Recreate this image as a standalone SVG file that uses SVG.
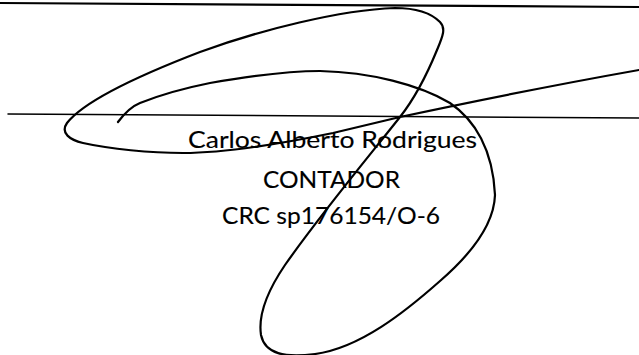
<svg xmlns="http://www.w3.org/2000/svg" width="639" height="355" viewBox="0 0 639 355">
<style>
.ln{fill:none;stroke:#000;stroke-linecap:round;stroke-linejoin:round}
.t{font-family:Lato,"Open Sans","Liberation Sans",sans-serif;font-size:22.8px;fill:#000;stroke:#000;stroke-width:0.12;text-anchor:middle}
</style>
<rect width="639" height="355" fill="#fff"/>
<g id="rules">
<path class="ln" d="M0,3 L639,7" stroke-width="2.2"/>
<path class="ln" d="M8,114 L639,118" stroke-width="1.5"/>
</g>
<g id="signature">
<path class="ln" stroke-width="2.2" d="M118,122 C124,114 130,107 140,103 C160,95 185,88 210,83 C250,76 290,71 320,71 C370,72 420,85 450,103 C475,120 493,150 495,195 C494,225 470,255 440,281 C405,312 360,348 315,354 C285,358 265,354 261,335 C258,315 268,290 285,265 C320,215 370,155 400,117 C415,98 428,72 437,50 C443,36 446,28 440,22 C430,12 415,8 395,8 C340,10 260,30 200,52 C140,75 85,100 67,123 C60,133 70,140 83,143 C110,149 150,153 183,153 C220,153 270,146 333,133 L400,117 C480,100 560,84 639,70"/>
</g>
<g id="text">
<text class="t" x="332.5" y="148" textLength="289" lengthAdjust="spacingAndGlyphs">Carlos Alberto Rodrigues</text>
<text class="t" x="331.5" y="188" textLength="137" lengthAdjust="spacingAndGlyphs">CONTADOR</text>
<text class="t" x="331" y="224" textLength="218" lengthAdjust="spacingAndGlyphs">CRC sp176154/O-6</text>
</g>
</svg>
